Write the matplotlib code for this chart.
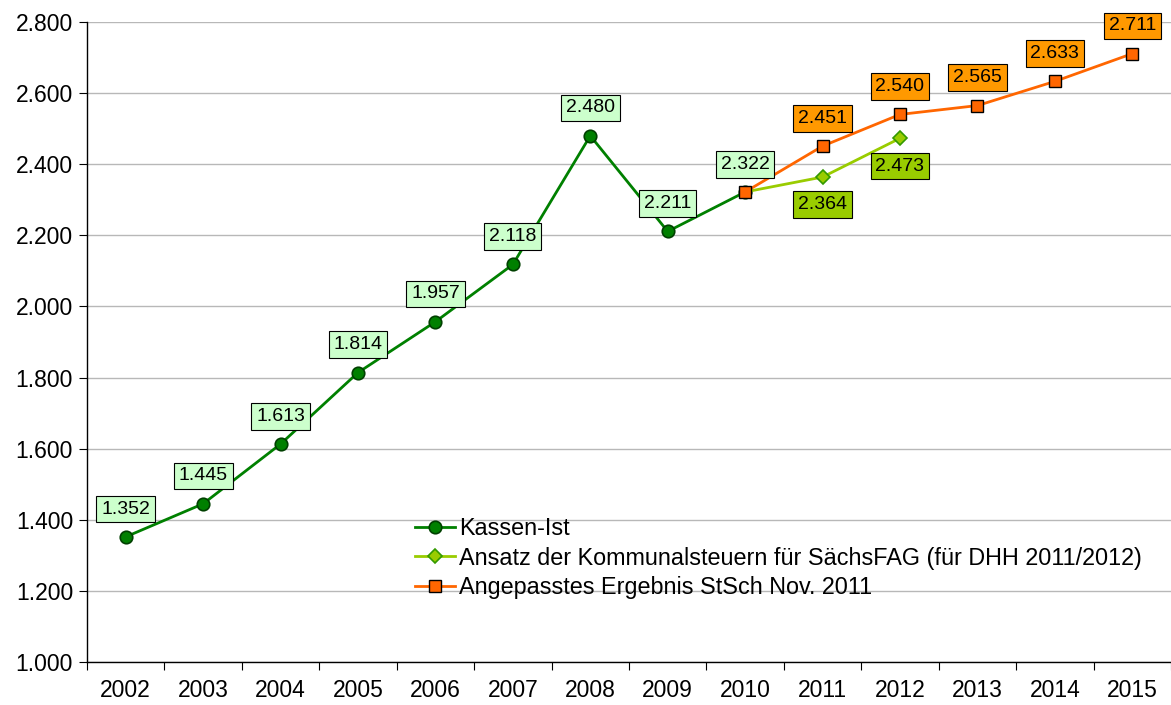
import matplotlib
matplotlib.use("Agg")
import matplotlib.pyplot as plt
from matplotlib.ticker import FuncFormatter

plt.rcParams['font.family'] = ['Liberation Sans', 'DejaVu Sans']

years = ["2002", "2003", "2004", "2005", "2006", "2007", "2008",
         "2009", "2010", "2011", "2012", "2013", "2014", "2015"]

kassen_x = list(range(0, 9))
kassen = [1352, 1445, 1613, 1814, 1957, 2118, 2480, 2211, 2322]

ansatz_x = [8, 9, 10]
ansatz = [2322, 2364, 2473]

angepasst_x = [8, 9, 10, 11, 12, 13]
angepasst = [2322, 2451, 2540, 2565, 2633, 2711]

yticks = [1000, 1200, 1400, 1600, 1800, 2000, 2200, 2400, 2600, 2800]


def de_fmt(v, pos=None):
    return "{:,.0f}".format(v).replace(",", ".")


fig = plt.figure(figsize=(11.71, 7.05), dpi=100)
ax = fig.add_axes([87 / 1171, 43 / 705, 1 - 87 / 1171, 640 / 705])

ax.plot(kassen_x, kassen, color='#008000', linewidth=2, marker='o',
        markersize=9, markerfacecolor='#008000', markeredgecolor='#004000',
        markeredgewidth=1.2, label='Kassen-Ist', zorder=3)
ax.plot(ansatz_x, ansatz, color='#99cc00', linewidth=2, marker='D',
        markersize=7, markerfacecolor='#99cc00', markeredgecolor='#339900',
        markeredgewidth=1.2, markevery=[1, 2],
        label='Ansatz der Kommunalsteuern für SächsFAG (für DHH 2011/2012)', zorder=3)
ax.plot(angepasst_x, angepasst, color='#ff6600', linewidth=2, marker='s',
        markersize=9, markerfacecolor='#ff6600', markeredgecolor='#000000',
        markeredgewidth=1.0, label='Angepasstes Ergebnis StSch Nov. 2011', zorder=4)

# data labels
box_kw = dict(boxstyle='square,pad=0.25', ec='#000000', lw=0.8)
for x, v in zip(kassen_x, kassen):
    ax.annotate(de_fmt(v), (x, v), xytext=(0, 20), textcoords='offset points',
                ha='center', va='center', fontsize=14, zorder=5,
                bbox=dict(fc='#ccffcc', **box_kw))
for x, v in zip(ansatz_x[1:], ansatz[1:]):
    ax.annotate(de_fmt(v), (x, v), xytext=(0, -20), textcoords='offset points',
                ha='center', va='center', fontsize=14, zorder=5,
                bbox=dict(fc='#99cc00', **box_kw))
for x, v in zip(angepasst_x[1:], angepasst[1:]):
    ax.annotate(de_fmt(v), (x, v), xytext=(0, 20), textcoords='offset points',
                ha='center', va='center', fontsize=14, zorder=5,
                bbox=dict(fc='#ff9900', **box_kw))

ax.set_ylim(1000, 2800)
ax.set_yticks(yticks)
ax.yaxis.set_major_formatter(FuncFormatter(de_fmt))
ax.set_xlim(-0.5, 13.41)
ax.set_xticks(range(len(years)))
ax.set_xticklabels(years)
ax.set_xticks([i - 0.5 for i in range(len(years) + 1)], minor=True)
ax.tick_params(axis='x', which='major', length=0, pad=12, labelsize=16.5)
ax.tick_params(axis='x', which='minor', length=6, direction='out', width=0.8)
ax.tick_params(axis='y', length=6, direction='out', width=0.8, labelsize=16.5, pad=4)

ax.grid(axis='y', color='#b8b8b8', linewidth=1)
ax.set_axisbelow(True)
for s in ['top', 'right']:
    ax.spines[s].set_visible(False)
ax.spines['left'].set_linewidth(1)
ax.spines['bottom'].set_linewidth(1)

ax.legend(loc='upper left', bbox_to_anchor=(0.294, 0.241), frameon=False,
          fontsize=16.8, handlelength=1.7, handletextpad=0.2, labelspacing=0.28,
          borderaxespad=0)

fig.savefig("out.png", dpi=100)
